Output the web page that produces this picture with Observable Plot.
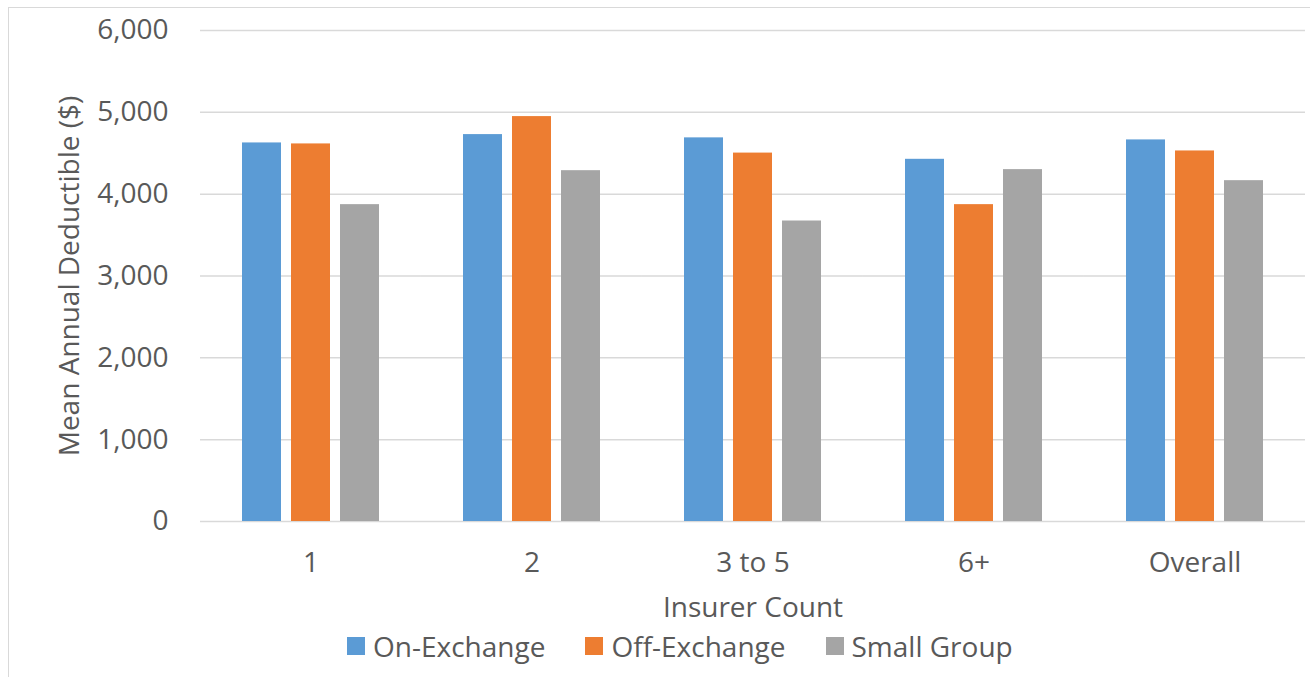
<!DOCTYPE html>
<html>
<head>
<meta charset="utf-8">
<script src="https://cdn.jsdelivr.net/npm/d3@7"></script>
<script src="https://cdn.jsdelivr.net/npm/@observablehq/plot@0.6"></script>
<style>
  html, body { margin: 0; padding: 0; background: #fff; }
  body { font-family: "Open Sans", sans-serif; color: #595959; }
  #page { position: relative; width: 1310px; height: 677px; overflow: hidden; }
  #frame { position: absolute; left: 8px; top: 7px; width: 1400px; height: 800px; border: 1.5px solid #d9d9d9; box-sizing: border-box; }
  #chart { position: absolute; left: 0; top: 0; }
  #legend { position: absolute; left: 347px; top: 628px; display: flex; align-items: center; font-size: 28px; line-height: 36px; }
  .item { display: flex; align-items: center; margin-right: 40px; }
  .swatch { width: 18px; height: 18px; margin-right: 8px; }
</style>
</head>
<body>
<div id="page">
  <div id="frame"></div>
  <div id="chart"></div>
  <div id="legend"></div>
</div>
<script>
// Insurer-count groups and the three market segments
const categories = ["1", "2", "3 to 5", "6+", "Overall"];
const series = ["On-Exchange", "Off-Exchange", "Small Group"];
const colors = ["#5b9bd5", "#ed7d31", "#a5a5a5"];

// Mean annual deductible ($) per group
const onExchange = [4626, 4728, 4688, 4426, 4663];
const offExchange = [4614, 4948, 4502, 3872, 4528];
const smallGroup = [3872, 4287, 3672, 4300, 4165];

const yTicks = [0, 1000, 2000, 3000, 4000, 5000, 6000];

const valuesBySeries = [onExchange, offExchange, smallGroup];
const rows = [];
categories.forEach((c, i) => {
  series.forEach((s, j) => rows.push({ group: c, segment: s, value: valuesBySeries[j][i] }));
});

const W = 1310, mL = 200, mR = 5;
const padInner = 0.38, padOuter = padInner / 2;
// half the gap between groups: lets each facet's gridlines meet its neighbours'
const step = (W - mL - mR) / (categories.length - padInner + 2 * padOuter);
const halfGap = step * padOuter;

const chart = Plot.plot({
  width: W,
  height: 628,
  marginLeft: mL,
  marginRight: mR,
  marginTop: 30,
  marginBottom: 107,
  style: { fontFamily: "'Open Sans', sans-serif", fontSize: "28px", color: "#595959", background: "transparent" },
  fx: { domain: categories, paddingInner: padInner, paddingOuter: padOuter },
  x: { domain: series, paddingInner: 0.214, paddingOuter: 0, axis: null },
  y: { domain: [0, 6000] },
  color: { domain: series, range: colors },
  marks: [
    Plot.ruleY(yTicks, { stroke: "#d9d9d9", strokeWidth: 1.5, strokeOpacity: 1, insetLeft: -halfGap, insetRight: -halfGap }),
    Plot.axisY(yTicks, {
      tickSize: 0,
      tickPadding: 32 + halfGap,
      tickFormat: d3.format(","),
      label: "Mean Annual Deductible ($)",
      labelAnchor: "center",
      labelArrow: "none",
      labelOffset: 141 + halfGap
    }),
    Plot.axisFx({
      anchor: "bottom",
      tickSize: 0,
      tickPadding: 31,
      label: "Insurer Count",
      labelAnchor: "center",
      labelArrow: "none",
      labelOffset: 95
    }),
    Plot.barY(rows, { fx: "group", x: "segment", y: "value", fill: "segment" })
  ]
});
document.getElementById("chart").append(chart);

const legend = document.getElementById("legend");
series.forEach((s, i) => {
  const item = document.createElement("div");
  item.className = "item";
  const sw = document.createElement("span");
  sw.className = "swatch";
  sw.style.background = colors[i];
  const label = document.createElement("span");
  label.textContent = s;
  item.append(sw, label);
  legend.append(item);
});
</script>
</body>
</html>
